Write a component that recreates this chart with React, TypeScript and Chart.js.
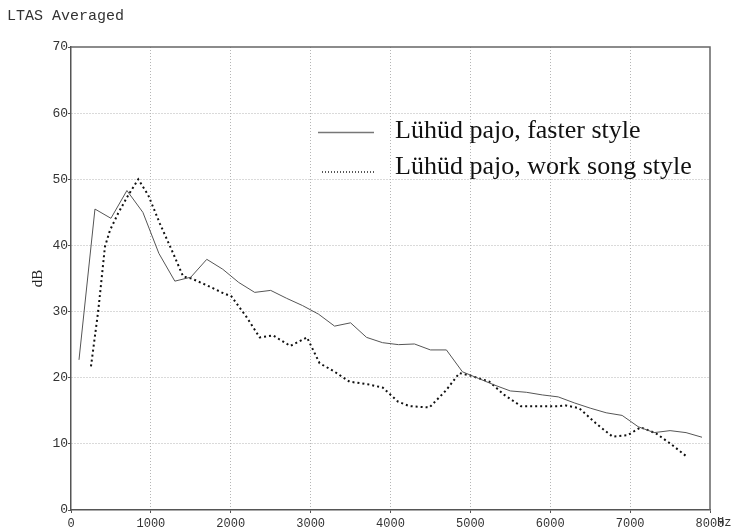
import React, { useEffect, useRef } from "react";
import { Chart, registerables } from "chart.js";

Chart.register(...registerables);

const chartTitle = "LTAS Averaged";
const yAxisTitle = "dB";
const xUnit = "Hz";
const seriesLabels = ["Lühüd pajo, faster style", "Lühüd pajo, work song style"];

const xMin = 0;
const xMax = 8000;
const xStep = 1000;
const yMin = 0;
const yMax = 70;
const yStep = 10;

// Solid series (faster style)
const fasterHz = [
  100, 300, 500, 700, 900, 1100, 1300, 1500, 1700, 1900,
  2100, 2300, 2500, 2700, 2900, 3100, 3300, 3500, 3700, 3900,
  4100, 4300, 4500, 4700, 4900, 5100, 5300, 5500, 5700, 5900,
  6100, 6300, 6500, 6700, 6900, 7100, 7300, 7500, 7700, 7900,
];
const fasterDb = [
  22.7, 45.5, 44.1, 48.3, 45.0, 38.8, 34.6, 35.2, 37.9, 36.4,
  34.4, 32.9, 33.2, 32.0, 30.9, 29.6, 27.8, 28.3, 26.1, 25.3,
  25.0, 25.1, 24.2, 24.2, 20.9, 19.9, 18.9, 18.0, 17.8, 17.4,
  17.1, 16.2, 15.4, 14.7, 14.3, 12.6, 11.7, 12.0, 11.7, 11.0,
];

// Dotted series (work song style)
const workHz = [
  250, 342, 425, 488, 592, 717, 842, 967, 1113, 1279,
  1404, 1508, 1696, 1904, 2008, 2196, 2362, 2529, 2746, 2954,
  3112, 3300, 3487, 3717, 3904, 4092, 4237, 4487, 4696, 4862,
  5008, 5237, 5425, 5633, 5862, 6112, 6196, 6362, 6571, 6779,
  6967, 7133, 7321, 7508, 7717,
];
const workDb = [
  21.7, 30.2, 39.8, 42.3, 44.9, 47.6, 50.0, 47.6, 43.3, 38.8,
  35.3, 35.0, 34.0, 32.8, 32.3, 29.2, 26.1, 26.4, 24.8, 26.1,
  22.2, 20.9, 19.4, 19.0, 18.5, 16.4, 15.7, 15.5, 18.1, 20.7,
  20.3, 19.4, 17.4, 15.7, 15.7, 15.7, 15.8, 15.4, 13.1, 11.1,
  11.3, 12.5, 11.6, 10.0, 8.0,
];

const decorPlugin = {
  id: "decor",
  afterDraw(chart: any) {
    const { ctx, chartArea: a } = chart;
    ctx.save();
    // top and right frame
    ctx.strokeStyle = "#666";
    ctx.lineWidth = 1.5;
    ctx.setLineDash([]);
    ctx.beginPath();
    ctx.moveTo(a.left, a.top);
    ctx.lineTo(a.right, a.top);
    ctx.lineTo(a.right, a.bottom);
    ctx.stroke();

    // title
    ctx.fillStyle = "#333";
    ctx.font = '15px "Liberation Mono"';
    ctx.textAlign = "left";
    ctx.textBaseline = "middle";
    ctx.fillText(chartTitle, 7, 16);

    // unit
    const xs = chart.scales.x;
    ctx.font = '12px "Liberation Mono"';
    ctx.fillText(xUnit, xs.getPixelForValue(xMax) + 7, 523);

    // legend
    const ds = chart.data.datasets;
    ctx.font = '26px "Liberation Serif"';
    ctx.fillStyle = "#111";
    ctx.textBaseline = "alphabetic";
    ctx.fillText(ds[0].label, 395, 138);
    ctx.fillText(ds[1].label, 395, 174);

    ctx.strokeStyle = "#777";
    ctx.lineWidth = 1.5;
    ctx.beginPath();
    ctx.moveTo(318, 132.5);
    ctx.lineTo(374, 132.5);
    ctx.stroke();

    ctx.strokeStyle = "#222";
    ctx.lineWidth = 1.5;
    ctx.setLineDash([1, 2]);
    ctx.beginPath();
    ctx.moveTo(322, 172);
    ctx.lineTo(374, 172);
    ctx.stroke();
    ctx.restore();
  },
};

export default function App() {
  const ref = useRef<HTMLCanvasElement | null>(null);
  useEffect(() => {
    if (!ref.current) return;
    const edgeX = (c: any) =>
      c.tick && (c.tick.value === xMin || c.tick.value === xMax) ? "rgba(0,0,0,0)" : "#b5b5b5";
    const edgeY = (c: any) =>
      c.tick && (c.tick.value === yMin || c.tick.value === yMax) ? "rgba(0,0,0,0)" : "#b5b5b5";
    const chart = new Chart(ref.current, {
      type: "line",
      data: {
        datasets: [
          {
            label: seriesLabels[0],
            data: fasterHz.map((x, i) => ({ x, y: fasterDb[i] })),
            borderColor: "#555",
            borderWidth: 1,
            pointRadius: 0,
            tension: 0,
          },
          {
            label: seriesLabels[1],
            data: workHz.map((x, i) => ({ x, y: workDb[i] })),
            borderColor: "#111",
            borderWidth: 2,
            borderDash: [2, 3],
            borderCapStyle: "butt",
            pointRadius: 0,
            tension: 0,
          },
        ],
      },
      options: {
        animation: false,
        responsive: false,
        events: [],
        layout: { padding: { left: 0, top: 47, right: 37, bottom: 0 } },
        plugins: { legend: { display: false }, tooltip: { enabled: false } },
        scales: {
          x: {
            type: "linear",
            min: xMin,
            max: xMax,
            afterFit: (s: any) => {
              s.height = 22;
            },
            ticks: {
              stepSize: xStep,
              padding: 4,
              maxRotation: 0,
              autoSkip: false,
              color: "#333",
              font: { family: "Liberation Mono", size: 12 },
              callback: (v: any) => String(v),
            },
            grid: {
              color: edgeX,
              lineWidth: 1,
              tickLength: 3,
              tickColor: "#555",
            },
            border: { display: true, color: "#555", width: 1.5, dash: [1, 2] },
          },
          y: {
            min: yMin,
            max: yMax,
            afterFit: (s: any) => {
              s.width = 71;
            },
            ticks: {
              stepSize: yStep,
              padding: 0,
              color: "#333",
              font: { family: "Liberation Mono", size: 13 },
              callback: (v: any) => String(v),
            },
            grid: {
              color: edgeY,
              lineWidth: 1,
              tickLength: 3,
              tickColor: "#555",
            },
            border: { display: true, color: "#555", width: 1.5, dash: [1, 2] },
            title: {
              display: true,
              text: yAxisTitle,
              color: "#222",
              font: { family: "Liberation Serif", size: 15 },
              padding: { top: 29, bottom: 0 },
            },
          },
        },
      },
      plugins: [decorPlugin],
    } as any);
    return () => chart.destroy();
  }, []);
  return (
    <div style={{ position: "absolute", left: 0, top: 0, width: 747, height: 532 }}>
      <canvas ref={ref} width={747} height={532} style={{ width: 747, height: 532 }} />
    </div>
  );
}
